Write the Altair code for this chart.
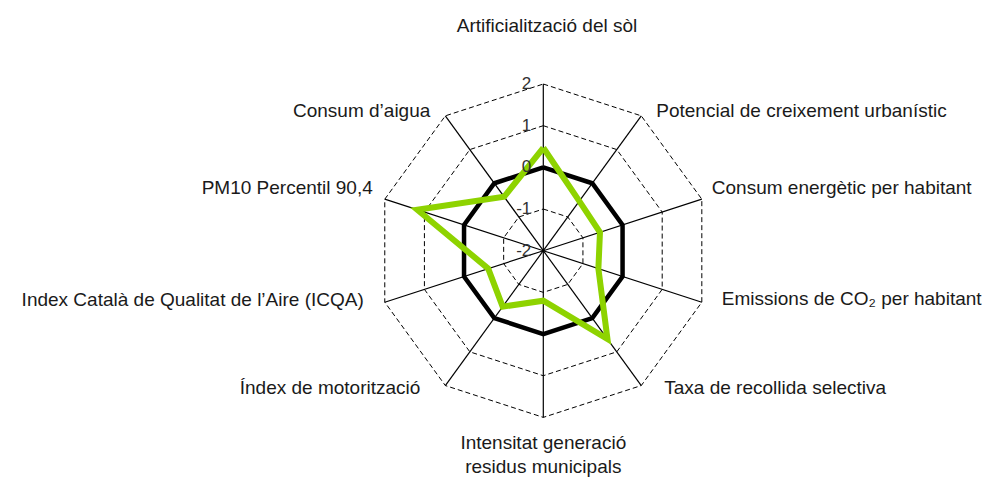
import math
import altair as alt
import pandas as pd

# ---- data ----
categories = [
    "Artificialització del sòl",
    "Potencial de creixement urbanístic",
    "Consum energètic per habitant",
    "Emissions de CO₂ per habitant",
    "Taxa de recollida selectiva",
    "Intensitat generació\nresidus municipals",
    "Índex de motorització",
    "Index Català de Qualitat de l’Aire (ICQA)",
    "PM10 Percentil 90,4",
    "Consum d’aigua",
]
municipality = [0.47, -0.53, -0.57, -0.61, 0.62, -0.80, -0.34, -0.61, 1.18, -0.40]
reference = [0, 0, 0, 0, 0, 0, 0, 0, 0, 0]
ticks = [2, 1, 0, -1, -2]

# ---- layout ----
U = 41.67            # pixels per unit on the radial scale
W, H = 976, 469
CX, CY = 535.3, 242.7  # centre in view pixels
RMIN, RMAX = -2, 2
N = len(categories)
xdom = [-CX / U, (W - CX) / U]
ydom = [-(H - CY) / U, CY / U]

def polar(v, k):
    r = v - RMIN
    a = 2 * math.pi * k / N
    return r * math.sin(a), r * math.cos(a)

def poly(values, name):
    rows = []
    for i in range(N + 1):
        k = i % N
        x, y = polar(values[k], k)
        rows.append({"x": x, "y": y, "o": i, "s": name})
    return rows

grid_rows = []
for lv in [-1, 0, 1, 2]:
    grid_rows += poly([lv] * N, str(lv))
grid = pd.DataFrame(grid_rows)

spokes = pd.DataFrame([
    {"x": 0, "y": 0, "x2": polar(RMAX, k)[0], "y2": polar(RMAX, k)[1]}
    for k in range(N)
])

ref_df = pd.DataFrame(poly(reference, "ref"))
mun_df = pd.DataFrame(poly(municipality, "mun"))

# label offsets in pixels from outer vertex (layout only)
lab_off = [(3.7, -58), (15, -4.5), (10, -11), (20, -3), (23, 2),
           (0, 26), (-25, 2), (-21, -2), (-12, -11), (-15, -4.5)]
lab_rows = []
for k, name in enumerate(categories):
    vx, vy = polar(RMAX, k)
    dx, dy = lab_off[k]
    s = math.sin(2 * math.pi * k / N)
    align = "left" if s > 0.01 else ("right" if s < -0.01 else "center")
    lab_rows.append({"x": vx + dx / U, "y": vy - dy / U, "t": name, "al": align})
labels = pd.DataFrame(lab_rows)

tick_df = pd.DataFrame([{"x": -12 / U, "y": t - RMIN, "t": str(t)} for t in ticks])

xs = alt.Scale(domain=xdom, nice=False, zero=False)
ys = alt.Scale(domain=ydom, nice=False, zero=False)
X = lambda f="x": alt.X(f"{f}:Q", scale=xs, axis=None)
Y = lambda f="y": alt.Y(f"{f}:Q", scale=ys, axis=None)

FONT = "'Liberation Sans Narrow', 'Liberation Sans', sans-serif"

rings = alt.Chart(grid).mark_line(color="black", strokeWidth=1, strokeDash=[5, 3]).encode(
    x=X(), y=Y(), order="o:Q", detail="s:N")
spk = alt.Chart(spokes).mark_rule(color="black", strokeWidth=1.2).encode(
    x=X(), y=Y(), x2="x2:Q", y2="y2:Q")
refl = alt.Chart(ref_df).mark_line(color="black", strokeWidth=4.5, strokeJoin="miter").encode(
    x=X(), y=Y(), order="o:Q")
munl = alt.Chart(mun_df).mark_line(color="#8ed300", strokeWidth=6, strokeJoin="miter").encode(
    x=X(), y=Y(), order="o:Q")

def lab_layer(al):
    return alt.Chart(labels[labels["al"] == al]).mark_text(
        align=al, baseline="middle", font=FONT, fontSize=19, color="#1a1a1a",
        lineBreak="\n", lineHeight=24).encode(x=X(), y=Y(), text="t:N")

tk = alt.Chart(tick_df).mark_text(align="right", baseline="middle", font=FONT,
                                  fontSize=17, color="#333333").encode(
    x=X(), y=Y(), text="t:N")

chart = alt.layer(rings, spk, refl, munl, tk,
                  lab_layer("left"), lab_layer("right"), lab_layer("center")).properties(
    width=W, height=H, padding=0, autosize=alt.AutoSizeParams(type="none")
).configure_view(stroke=None)

chart.save("out.html", embed_options={"renderer": "svg", "actions": False})
